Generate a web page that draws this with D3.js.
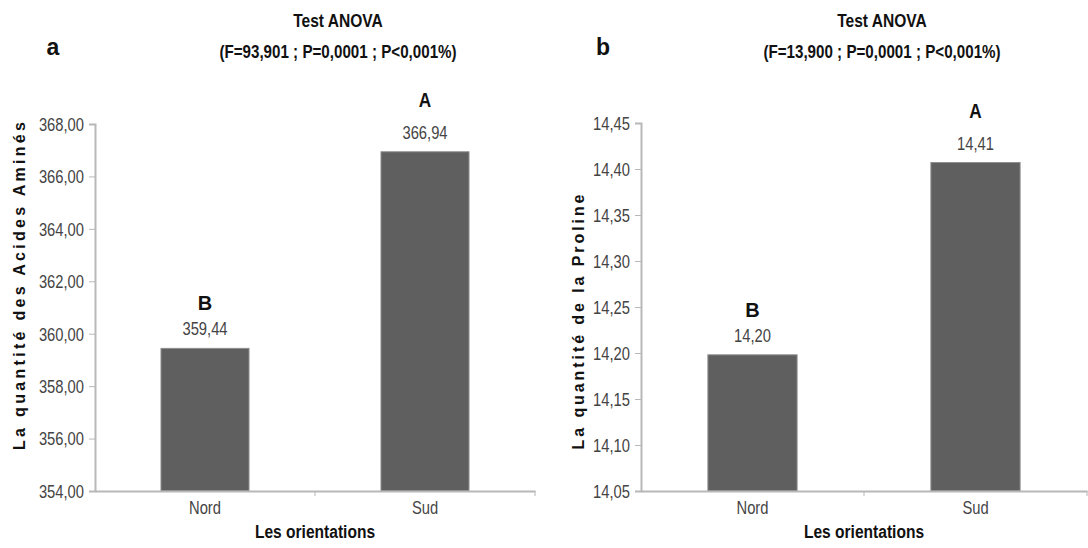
<!DOCTYPE html>
<html>
<head>
<meta charset="utf-8">
<script src="https://cdn.jsdelivr.net/npm/d3@7"></script>
<style>
  html, body { margin: 0; padding: 0; background: #fff; }
  svg { display: block; }
  text { font-family: "Liberation Sans", Arial, sans-serif; }
</style>
</head>
<body>
<svg id="chart" width="1088" height="548"></svg>
<script>
// ---- Data ----
const categories = ["Nord", "Sud"];
const aminoValues = [359.44, 366.94];
const prolineValues = [14.198, 14.407];
const groupLetters = ["B", "A"];
const aminoTicks = [354, 356, 358, 360, 362, 364, 366, 368];
const prolineTicks = [14.05, 14.10, 14.15, 14.20, 14.25, 14.30, 14.35, 14.40, 14.45];
const panelLetters = ["a", "b"];
const titleLine1 = ["Test ANOVA", "Test ANOVA"];
const titleLine2 = ["(F=93,901 ; P=0,0001 ; P<0,001%)", "(F=13,900 ; P=0,0001 ; P<0,001%)"];
const yTitles = ["La quantité des Acides Aminés", "La quantité de la Proline"];
const xTitle = "Les orientations";

const SX = 0.82; // condensed look (Arial Narrow substitute)
const comma = (v, d) => v.toFixed(d).replace(".", ",");

const svg = d3.select("#chart");

function narrow(sel, x, y) {
  return sel.attr("x", 0).attr("y", 0)
    .attr("transform", `translate(${x},${y}) scale(${SX},1)`);
}

const panels = [
  { values: aminoValues, ticks: aminoTicks, domain: [354, 368], dec: 2,
    x0: 95, x1: 535, yBottom: 491, yTop: 124,
    letter: panelLetters[0], letterX: 53, letterY: 55,
    titleX: 338, yTitle: yTitles[0], yTitleX: 19, yTitleY: 286, yTitleLen: 328 },
  { values: prolineValues, ticks: prolineTicks, domain: [14.05, 14.45], dec: 2,
    x0: 641, x1: 1087, yBottom: 491, yTop: 123,
    letter: panelLetters[1], letterX: 603, letterY: 55,
    titleX: 882, yTitle: yTitles[1], yTitleX: 578, yTitleY: 322, yTitleLen: 255 }
];

panels.forEach((p, i) => {
  const g = svg.append("g");
  const x = d3.scaleBand().domain(categories).range([p.x0, p.x1])
    .paddingInner(0.6).paddingOuter(0.3);
  const y = d3.scaleLinear().domain(p.domain).range([p.yBottom, p.yTop]);

  // bars
  g.selectAll("rect.bar").data(p.values).join("rect")
    .attr("class", "bar")
    .attr("x", (d, j) => x(categories[j]))
    .attr("width", x.bandwidth())
    .attr("y", d => y(d))
    .attr("height", d => y(p.domain[0]) - y(d))
    .attr("fill", "#5f5f5f")
    .attr("stroke", "#8c8c8c")
    .attr("stroke-width", 1);

  // y axis
  const yAxis = d3.axisLeft(y).tickValues(p.ticks).tickSize(6).tickPadding(5)
    .tickFormat(d => comma(d, p.dec));
  const ya = g.append("g").attr("transform", `translate(${p.x0},0)`).call(yAxis);
  ya.select(".domain").attr("stroke", "#b8b8b8").attr("stroke-width", 2);
  ya.selectAll(".tick line").attr("stroke", "#b8b8b8").attr("stroke-width", 1);
  ya.selectAll(".tick text")
    .attr("font-size", 18).attr("fill", "#444").attr("dy", "0.35em")
    .attr("x", -11 / SX).attr("transform", `scale(${SX},1)`);

  // x axis baseline + category labels
  const xa = g.append("g").attr("transform", `translate(0,${p.yBottom})`)
    .call(d3.axisBottom(x).tickSize(0).tickPadding(10));
  xa.select(".domain").attr("stroke", "#b8b8b8").attr("stroke-width", 2);
  xa.selectAll(".tick text").attr("font-size", 18).attr("fill", "#444")
    .attr("transform", `scale(${SX},1)`);
  // tick marks between categories and at the end
  const mid = (x(categories[0]) + x.bandwidth() + x(categories[1])) / 2;
  g.selectAll("line.xt").data([mid, p.x1]).join("line")
    .attr("class", "xt")
    .attr("x1", d => d).attr("x2", d => d)
    .attr("y1", p.yBottom).attr("y2", p.yBottom + 5)
    .attr("stroke", "#b8b8b8").attr("stroke-width", 1);

  // value labels
  g.selectAll("text.val").data(p.values).join("text")
    .attr("class", "val")
    .attr("text-anchor", "middle").attr("font-size", 18).attr("fill", "#444")
    .text(d => comma(d, p.dec))
    .each(function(d, j) {
      narrow(d3.select(this), x(categories[j]) + x.bandwidth() / 2, y(d) - 13);
    });

  // group letters
  g.selectAll("text.grp").data(p.values).join("text")
    .attr("class", "grp")
    .attr("text-anchor", "middle")
    .attr("font-weight", "bold").attr("fill", "#111")
    .text((d, j) => groupLetters[j])
    .each(function(d, j) {
      const s = d3.select(this);
      const cx = x(categories[j]) + x.bandwidth() / 2;
      if (groupLetters[j] === "B") {
        s.attr("font-size", 20).attr("x", cx).attr("y", y(d) - 38);
      } else {
        s.attr("font-size", 21);
        narrow(s, cx, y(d) - 45);
      }
    });

  // panel letter
  g.append("text")
    .attr("x", p.letterX).attr("y", p.letterY).attr("text-anchor", "middle")
    .attr("font-size", 23).attr("font-weight", "bold").attr("fill", "#111")
    .text(p.letter);

  // title
  narrow(g.append("text"), p.titleX, 27).attr("text-anchor", "middle")
    .attr("font-size", 19).attr("font-weight", "bold").attr("fill", "#111")
    .text(titleLine1[i]);
  narrow(g.append("text"), p.titleX, 58).attr("text-anchor", "middle")
    .attr("font-size", 18.5).attr("font-weight", "bold").attr("fill", "#111")
    .text(titleLine2[i]);

  // y title
  g.append("text")
    .attr("transform", `translate(${p.yTitleX},${p.yTitleY}) rotate(-90)`)
    .attr("text-anchor", "middle").attr("dy", "0.35em")
    .attr("font-size", 16).attr("font-weight", "bold").attr("fill", "#111")
    .attr("textLength", p.yTitleLen).attr("lengthAdjust", "spacing")
    .text(p.yTitle);

  // x title
  narrow(g.append("text"), (p.x0 + p.x1) / 2, 538).attr("text-anchor", "middle")
    .attr("font-size", 19).attr("font-weight", "bold").attr("fill", "#111")
    .text(xTitle);
});
</script>
</body>
</html>
